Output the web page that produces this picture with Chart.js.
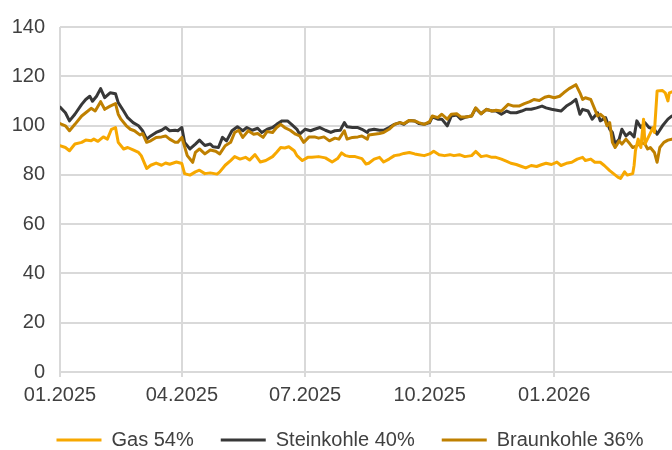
<!DOCTYPE html>
<html><head><meta charset="utf-8">
<script src="https://cdn.jsdelivr.net/npm/chart.js@4/dist/chart.umd.min.js"></script>
<style>html,body{margin:0;padding:0;background:#fff}#wrap{width:672px;height:450px;position:relative}</style>
</head><body><div id="wrap"><canvas id="c"></canvas></div>
<script>
// x values: days since 01.01.2025
const tickDays = [0, 90, 181, 273, 365];
const tickLabels = ['01.2025', '04.2025', '07.2025', '10.2025', '01.2026'];
const seriesNames = ['Gas 54%', 'Steinkohle 40%', 'Braunkohle 36%'];

const gasDays = [0,4,7,11,16,19,23,25,28,32,35,38,41,43,47,50,54,58,60,64,67,71,75,78,81,86,90,92,96,100,103,107,111,116,118,122,126,129,133,137,140,144,148,152,157,160,163,166,169,173,175,179,183,186,191,196,201,205,208,211,214,218,223,226,228,232,236,239,243,247,251,254,258,262,265,269,273,276,280,284,288,291,295,299,304,307,311,315,319,322,326,330,333,337,341,344,348,352,356,359,363,367,370,374,378,382,386,388,392,395,399,402,406,409,412,414,417,419,423,424,425,427,429,431,432,435,438,439,441,445,447,449,450,452];
const gasValues = [91.8,91.1,89.8,92.5,93.2,94.1,93.8,94.5,93.6,95.4,94.5,98.5,99.2,93.2,90.5,91.1,90.1,89.1,87.8,82.6,83.9,84.8,83.9,84.8,84.3,85.2,84.6,80.5,79.9,81.2,81.9,80.5,80.8,80.3,81.2,83.9,85.8,87.4,86.4,87.1,86.0,88.2,85.2,85.8,87.4,89.2,91.1,90.9,91.4,89.8,87.8,85.8,87.1,87.1,87.4,86.9,85.2,86.6,88.9,87.8,87.4,87.4,86.6,84.4,84.7,86.4,87.1,85.2,86.4,87.8,88.2,88.7,89.1,88.5,88.2,87.8,88.5,89.6,88.2,87.8,88.2,87.8,88.2,87.4,87.8,89.5,87.4,87.8,87.1,87.1,86.4,85.5,84.7,84.2,83.4,82.8,83.8,83.4,84.2,84.7,84.2,85.2,83.8,84.7,85.1,86.4,87.1,85.8,86.4,85.1,85.1,83.8,81.7,80.4,79.1,78.5,81.2,79.9,80.5,83.8,89.8,94.5,91.1,102.6,92.5,95.8,99.2,97.2,114.0,114.2,113.3,110.0,113.3,113.7];

const steinDays = [0,4,7,11,16,19,22,24,27,30,33,37,41,43,47,50,54,58,61,64,67,71,75,78,81,85,87,90,92,96,100,103,107,111,113,117,120,123,127,131,135,138,142,146,149,153,157,160,164,168,171,175,177,181,185,188,192,196,200,203,207,210,212,216,220,223,227,228,232,236,239,243,247,251,254,258,262,265,269,273,275,279,282,286,289,293,296,300,304,307,311,315,319,322,326,330,333,337,341,344,348,352,356,359,363,367,370,374,378,381,384,386,390,393,397,399,403,406,408,410,413,415,418,421,424,426,429,432,435,439,441,445,449,452];
const steinValues = [107.5,105.2,101.9,104.6,108.6,110.6,111.9,109.9,111.9,115.0,111.3,113.3,112.9,109.3,105.9,103.2,101.2,99.9,97.9,94.5,95.8,97.2,98.1,99.2,97.9,98.1,97.9,99.2,93.2,90.5,92.5,94.1,91.9,92.5,91.4,91.1,95.2,93.8,97.9,99.5,97.9,99.2,98.1,98.9,97.2,98.5,99.2,100.5,101.9,101.9,100.5,98.5,96.5,98.5,97.9,98.5,99.2,98.1,97.2,97.9,98.1,101.2,99.5,99.2,99.2,98.5,97.2,98.1,98.5,98.1,98.1,99.2,100.5,101.2,100.5,102.1,101.9,100.8,100.5,101.2,103.5,102.6,102.6,99.9,103.9,104.3,102.6,103.5,103.9,107.0,104.8,106.6,105.9,105.9,104.6,105.9,105.2,105.2,105.9,106.6,106.6,107.2,107.9,107.2,106.6,106.2,105.9,107.9,109.3,110.6,104.6,106.6,105.9,102.6,105.2,101.9,103.2,98.5,97.2,92.5,94.5,98.5,95.8,97.2,95.4,101.9,99.2,101.2,99.2,98.5,96.5,99.9,102.6,103.9];

const braunDays = [0,4,7,11,16,19,23,26,30,33,37,41,43,45,49,52,55,59,61,64,67,71,75,78,81,85,87,90,94,98,100,103,107,111,115,118,122,126,129,132,135,139,143,146,150,153,157,160,163,166,170,174,177,180,184,188,191,195,199,203,206,210,212,216,220,223,227,228,232,236,239,243,247,251,254,258,262,265,269,273,275,279,282,286,289,293,296,300,304,307,311,315,319,322,326,331,335,339,343,347,350,354,358,361,365,369,372,376,378,381,384,386,388,392,395,397,399,402,404,406,408,410,413,415,418,421,423,426,429,432,434,436,439,441,443,446,449,452];
const braunValues = [100.8,99.9,97.9,100.5,103.9,105.2,107.0,105.9,109.7,106.6,107.9,108.9,104.6,102.6,99.9,98.5,97.9,96.2,96.8,93.2,93.8,95.2,95.4,95.8,94.5,93.2,93.2,95.2,87.8,85.1,89.1,90.5,88.5,90.1,89.6,88.5,91.8,93.2,97.2,98.1,95.2,97.9,96.5,96.8,95.2,97.6,97.2,99.2,100.5,99.2,98.1,96.5,95.8,93.2,95.4,95.4,94.9,95.4,93.8,94.9,94.5,97.9,94.5,95.2,95.4,95.8,94.5,96.2,96.5,96.8,97.2,98.5,100.5,101.2,100.8,102.1,101.9,101.2,100.5,101.6,103.9,103.2,104.6,102.6,104.6,104.8,103.5,103.5,103.9,107.2,104.8,106.6,105.9,106.2,105.9,108.6,107.9,107.9,108.9,109.7,110.6,110.2,111.5,111.9,111.3,111.9,113.3,115.0,115.6,116.6,113.3,110.6,111.3,110.6,106.6,103.9,104.6,103.2,99.9,101.2,93.2,91.1,93.8,92.5,94.5,92.5,91.1,91.8,93.2,92.5,90.5,91.1,89.1,85.1,91.1,93.2,94.1,94.5];

const toPoints = (days, vals) => days.map((d, i) => ({x: d, y: vals[i]}));
const FONT = {family: "'Liberation Sans', Arial, sans-serif", size: 20};
const TEXT = '#404040';
const GRID = '#d9d9d9';

const mk = (label, days, vals, color, order) => ({
  label, data: toPoints(days, vals), borderColor: color, backgroundColor: color,
  borderWidth: 3, pointRadius: 0, tension: 0, fill: false, order,
  borderJoinStyle: 'round', borderCapStyle: 'round'
});

// shift the legend block slightly to the right, as in the original
const legendShift = {
  id: 'legendShift',
  afterLayout(chart) { if (chart.legend) chart.legend.left = 28; }
};

new Chart(document.getElementById('c'), {
  type: 'line',
  data: {
    datasets: [
      mk(seriesNames[0], gasDays, gasValues, '#F7A800', 0),
      mk(seriesNames[1], steinDays, steinValues, '#383838', 2),
      mk(seriesNames[2], braunDays, braunValues, '#BF8000', 1)
    ]
  },
  plugins: [legendShift],
  options: {
    responsive: true, maintainAspectRatio: false, animation: false, devicePixelRatio: 1,
    layout: {padding: {top: 24, left: 0, right: 0, bottom: -10}},
    plugins: {
      tooltip: {enabled: false},
      legend: {
        position: 'bottom',
        labels: {
          sort: (a, b) => a.datasetIndex - b.datasetIndex,
          usePointStyle: true, pointStyle: 'line', pointStyleWidth: 45, padding: 27, color: TEXT, font: FONT
        }
      }
    },
    scales: {
      x: {
        type: 'linear', min: 0, max: 452,
        afterBuildTicks: s => { s.ticks = tickDays.map(v => ({value: v})); },
        afterFit: s => { s.height = 31; },
        ticks: {callback: (v, i) => tickLabels[i], autoSkip: false, maxRotation: 0, padding: 6, color: TEXT, font: FONT},
        grid: {color: GRID, lineWidth: 2, tickLength: 5, drawTicks: true},
        border: {color: GRID, width: 2}
      },
      y: {
        min: 0, max: 140,
        afterFit: s => { s.width = 60; },
        ticks: {stepSize: 20, padding: 15, color: TEXT, font: FONT},
        grid: {color: GRID, lineWidth: 2, drawTicks: false},
        border: {display: false}
      }
    }
  }
});
</script>
</body></html>
